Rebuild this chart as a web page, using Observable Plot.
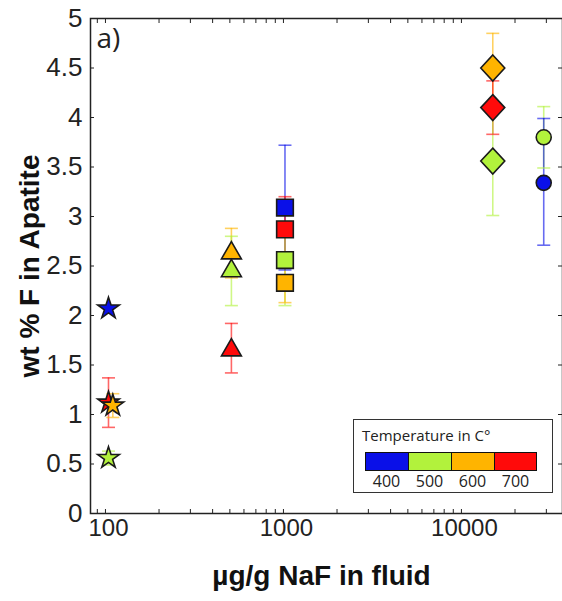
<!DOCTYPE html>
<html><head><meta charset="utf-8">
<script src="https://cdn.jsdelivr.net/npm/d3@7"></script>
<script src="https://cdn.jsdelivr.net/npm/@observablehq/plot@0.6"></script>
<style>
body{margin:0;background:#fff}
#wrap{position:relative;width:562px;height:601px;overflow:hidden}
#legend{position:absolute;left:353px;top:419px;width:200px;height:74px;border:1.5px solid #333;background:#fff;box-sizing:border-box;font-family:"Open Sans","Noto Sans",sans-serif;color:#222}
#legend .title{position:absolute;left:8px;top:5px;font-size:15px;white-space:nowrap}
#legend .sw{position:absolute;top:32px;height:19px;box-sizing:border-box;border:1px solid #111}
#legend .lab{position:absolute;top:50px;font-size:16px;text-align:center;width:43px}
</style></head><body><div id="wrap"></div>
<script>
// temperature classes
const tempLevels = [400, 500, 600, 700];
const tempColors = ["#0a10e8", "#b2f23c", "#ffb400", "#ff0a0a"];

// measurements (draw order)
const naf   = [104, 104, 110, 104, 510, 510, 510, 1020, 1020, 1020, 1020, 15000, 15000, 15000, 29000, 29000];
const temp  = [400, 700, 600, 500, 700, 600, 500, 400, 700, 500, 600, 600, 700, 500, 500, 400];
const shape = ["star","star","star","star","triangle","triangle","triangle","square","square","square","square","diamond","diamond","diamond","circle","circle"];
const fWt   = [2.07, 1.12, 1.09, 0.56, 1.65, 2.63, 2.45, 3.09, 2.87, 2.56, 2.33, 4.50, 4.10, 3.56, 3.80, 3.34];
const errLo = [null, 0.87, 0.97, 0.49, 1.42, 2.38, 2.10, 2.46, 2.54, 2.10, 2.13, 4.15, 3.83, 3.01, 3.49, 2.71];
const errHi = [null, 1.37, 1.21, 0.63, 1.92, 2.88, 2.80, 3.72, 3.20, 2.95, 2.55, 4.85, 4.37, 4.11, 4.11, 3.99];

// axis ticks
const yTicks = [0, 0.5, 1, 1.5, 2, 2.5, 3, 3.5, 4, 4.5, 5];
const xLabelTicks = [100, 1000, 10000];
const xMinorTicks = [90, 100, 200, 300, 400, 500, 600, 700, 800, 900, 1000, 2000, 3000, 4000, 5000, 6000, 7000, 8000, 9000, 10000, 20000, 30000];

const rows = naf.map((v, i) => ({naf: v, temp: temp[i], shape: shape[i], f: fWt[i], lo: errLo[i], hi: errHi[i]}));
const errRows = rows.filter(d => d.lo != null);
const caps = errRows.flatMap(d => [{naf: d.naf, temp: d.temp, y: d.lo}, {naf: d.naf, temp: d.temp, y: d.hi}]);

const capSymbol = {draw(ctx, size) { const r = Math.sqrt(size / Math.PI); ctx.moveTo(-r, 0); ctx.lineTo(r, 0); }};
const diamondSymbol = {draw(ctx, size) { const r = Math.sqrt(size / Math.PI); ctx.moveTo(0, -r * 1.08); ctx.lineTo(r, 0); ctx.lineTo(0, r * 1.08); ctx.lineTo(-r, 0); ctx.closePath(); }};
const shapeSpec = {star: [d3.symbolStar, 6.8], triangle: [d3.symbolTriangle, 7.4], square: [d3.symbolSquare, 9.4], diamond: [diamondSymbol, 12], circle: ["circle", 7.5]};

const dotMarks = Object.keys(shapeSpec).map(s => Plot.dot(rows.filter(d => d.shape === s), {
  x: "naf", y: "f", fill: "temp", symbol: shapeSpec[s][0], r: shapeSpec[s][1], stroke: "#1a1a1a", strokeWidth: 1.6
}));

const chart = Plot.plot({
  width: 562, height: 601,
  marginLeft: 90, marginRight: 0, marginTop: 18, marginBottom: 88,
  x: {type: "log", domain: [82.4, 36970]},
  y: {domain: [0, 5]},
  color: {domain: tempLevels, range: tempColors},
  style: {fontFamily: "'Liberation Sans', Arial, sans-serif", background: "#fff", color: "#222"},
  marks: [
    Plot.axisX(xMinorTicks, {anchor: "bottom", tickSize: 4, dy: -4, fill: "none", label: null, stroke: "#222"}),
    Plot.axisX(xMinorTicks, {anchor: "top", tickSize: 4, dy: 4, fill: "none", label: null, stroke: "#222"}),
    Plot.axisY(yTicks, {anchor: "left", tickSize: 4, dx: 4, fill: "none", label: null, stroke: "#222"}),
    Plot.axisY(yTicks, {anchor: "right", tickSize: 4, dx: -5, fill: "none", label: null, stroke: "#222"}),
    Plot.axisX(xLabelTicks, {anchor: "bottom", tickSize: 0, tickPadding: 5, dx: 3, tickFormat: d => String(d), fontSize: 24, label: null}),
    Plot.axisY(yTicks, {anchor: "left", tickSize: 0, tickPadding: 8, tickFormat: d => String(d), fontSize: 26, label: null}),
    Plot.frame({stroke: "#222", strokeWidth: 1.5}),
    Plot.text(["µg/g NaF in fluid"], {frameAnchor: "bottom", text: d => d, dx: -5, dy: 71, lineAnchor: "bottom", textAnchor: "middle", fontSize: 28, fontWeight: "bold", fill: "#111"}),
    Plot.text(["wt % F in Apatite"], {frameAnchor: "left", text: d => d, rotate: -90, dx: -60, textAnchor: "middle", lineAnchor: "middle", fontSize: 28, fontWeight: "bold", fill: "#111"}),
    Plot.text(["a)"], {frameAnchor: "top-left", text: d => d, dx: 6, dy: 10, lineAnchor: "top", textAnchor: "start", fontSize: 28, fontFamily: "'Open Sans', 'Noto Sans', sans-serif", fill: "#222"}),
    Plot.ruleX(errRows, {x: "naf", y1: "lo", y2: "hi", stroke: "temp", strokeOpacity: 0.62, strokeWidth: 1.6}),
    Plot.dot(caps, {x: "naf", y: "y", symbol: capSymbol, r: 6.5, stroke: "temp", strokeOpacity: 0.62, strokeWidth: 1.6}),
    ...dotMarks
  ]
});

const wrap = document.getElementById("wrap");
wrap.appendChild(chart);

// legend
const lg = d3.select(wrap).append("div").attr("id", "legend");
lg.append("div").attr("class", "title").text("Temperature in C°");
tempLevels.forEach((t, i) => {
  lg.append("div").attr("class", "sw").style("left", (11 + i * 43) + "px").style("width", (i === 3 ? 43 : 44) + "px").style("background", tempColors[i]);
  lg.append("div").attr("class", "lab").style("left", (11 + i * 43) + "px").text(String(t));
});
</script></body></html>
